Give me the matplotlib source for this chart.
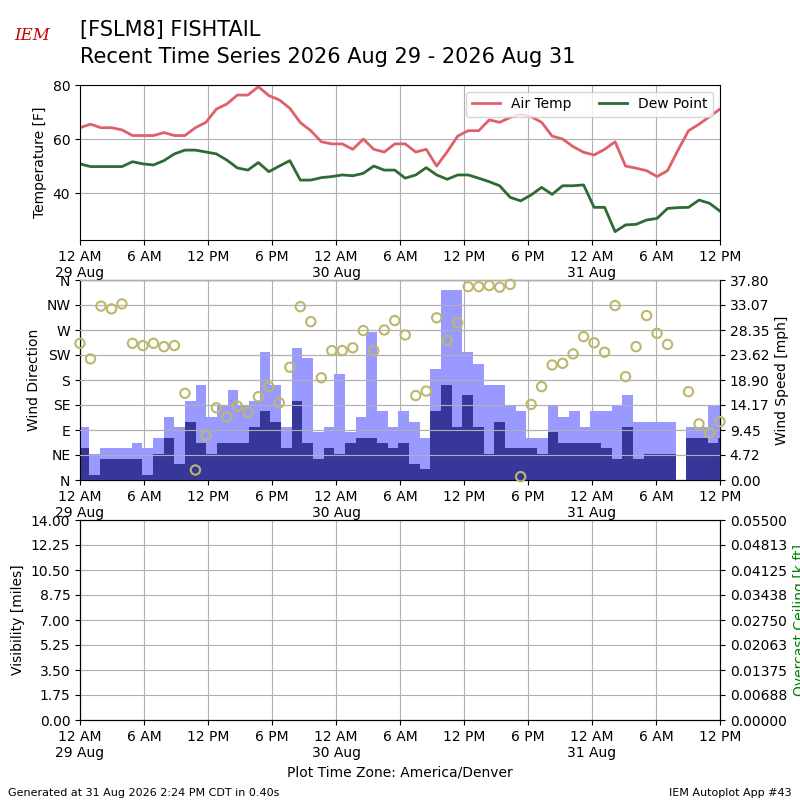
import numpy as np
import matplotlib
matplotlib.use('Agg')
import matplotlib.pyplot as plt

# Temperature data (F), roughly hourly from 12 AM 29 Aug to 12 PM 31 Aug
air_temp = [64.3, 65.6, 64.3, 64.3, 63.5, 61.4, 61.4, 61.4, 62.5, 61.4, 61.4, 64.3,
            66.3, 71.2, 73.1, 76.4, 76.4, 79.5, 76.2, 74.6, 71.5, 66.2, 63.2, 59.1,
            58.3, 58.3, 56.3, 60.1, 56.3, 55.3, 58.3, 58.3, 55.3, 56.3, 50.1, 55.4,
            61.2, 63.2, 63.2, 67.2, 66.3, 68.1, 69.3, 68.4, 66.3, 61.2, 60.1, 57.3,
            55.2, 54.2, 56.3, 59.1, 50.1, 49.3, 48.4, 46.2, 48.4, 56.0, 63.2, 65.6,
            68.4, 71.2]
dew_point = [50.9, 49.9, 49.9, 49.9, 49.9, 51.7, 50.9, 50.5, 52.1, 54.6, 56.0, 56.0,
             55.3, 54.6, 52.3, 49.4, 48.6, 51.4, 48.0, 50.1, 52.1, 44.9, 44.9, 45.8,
             46.2, 46.8, 46.5, 47.4, 50.1, 48.6, 48.6, 45.6, 46.8, 49.5, 46.8, 45.2,
             46.8, 46.8, 45.6, 44.3, 42.8, 38.5, 37.2, 39.4, 42.2, 39.6, 42.8, 42.8,
             43.1, 34.8, 34.8, 25.8, 28.3, 28.5, 30.1, 30.7, 34.4, 34.7, 34.8, 37.5,
             36.3, 33.4]

# Wind (mph) per hour, gust and sustained speed
nan = np.nan
wind_gust = [10.1, 4.9, 6.0, 6.0, 6.0, 7.0, 6.0, 7.9, 12.0, 10.1, 14.9, 18.0,
             12.0, 14.0, 17.0, 14.0, 15.0, 24.1, 18.0, 10.1, 24.9, 23.1, 9.1, 10.1,
             20.0, 9.1, 12.0, 28.0, 13.0, 10.1, 13.0, 11.0, 7.9, 21.0, 35.9, 35.9,
             24.1, 21.9, 18.0, 18.0, 14.0, 13.0, 7.9, 7.9, 14.0, 12.0, 13.0, 10.1,
             13.0, 13.0, 14.0, 16.1, 11.0, 11.0, 11.0, 11.0, nan, 10.1, 10.1, 14.0, 14.0]
wind_speed = [6.0, 1.0, 4.0, 4.0, 4.0, 4.0, 1.0, 4.9, 7.9, 3.1, 11.0, 7.0,
              4.9, 7.0, 7.0, 7.0, 10.1, 13.0, 11.0, 6.0, 14.9, 7.0, 4.0, 6.0,
              4.9, 7.0, 7.9, 7.9, 7.0, 6.0, 7.0, 3.1, 2.1, 13.0, 18.0, 10.1,
              16.1, 10.1, 4.9, 11.0, 6.0, 6.0, 6.0, 4.9, 9.1, 7.0, 7.0, 7.0,
              7.0, 6.0, 4.0, 10.1, 4.0, 4.9, 4.9, 4.9, nan, 7.9, 7.9, 7.0, 7.9]
wind_dir = [246, 218, 313, 308, 317, 246, 242, 246, 240, 242, 156, 18,
            80, 130, 114, 133, 122, 150, 168, 139, 203, 312, 285, 184,
            233, 233, 238, 269, 233, 270, 287, 261, 152, 160, 292, 251,
            283, 348, 348, 350, 347, 352, 6, 136, 168, 207, 210, 227,
            258, 247, 230, 314, 186, 240, 296, 264, 244, nan, 159, 101, 85, 105]

tick_hours = list(range(0, 61, 6))
tick_labels = ['12 AM\n29 Aug', '6 AM', '12 PM', '6 PM', '12 AM\n30 Aug', '6 AM',
               '12 PM', '6 PM', '12 AM\n31 Aug', '6 AM', '12 PM']

t_temp = np.linspace(0, 60, len(air_temp))
t_wind = np.arange(len(wind_gust)) - 0.15
t_dir = np.arange(len(wind_dir)) * 60 / (len(wind_dir) - 1)

fig = plt.figure(figsize=(8, 8), dpi=100)

def setup_x(ax):
    ax.set_xlim(0, 60)
    ax.set_xticks(tick_hours)
    ax.set_xticklabels(tick_labels)
    ax.grid(True, color='#b0b0b0')

# top panel: temperatures
ax1 = fig.add_axes([0.1, 0.7, 0.8, 0.194])
ax1.plot(t_temp, air_temp, color='#e0606a', lw=2, label='Air Temp')
ax1.plot(t_temp, dew_point, color='#2e6b34', lw=2, label='Dew Point')
ax1.set_ylim(22.7, 80.2)
ax1.set_yticks([40, 60, 80])
ax1.set_ylabel('Temperature [F]')
setup_x(ax1)
ax1.legend(loc='upper right', ncol=2)

# middle panel: wind
ax2 = fig.add_axes([0.1, 0.4, 0.8, 0.25])
ax2r = ax2.twinx()
ax2r.bar(t_wind, wind_gust, width=1, align='edge', color='#9999ff', zorder=1)
ax2r.bar(t_wind, wind_speed, width=1, align='edge', color='#373799', zorder=2)
ax2r.set_ylim(0, 37.8)
ax2r.set_yticks(np.linspace(0, 37.8, 9))
ax2r.set_yticklabels([f'{v:.2f}' for v in np.linspace(0, 37.8, 9)])
ax2r.set_ylabel('Wind Speed [mph]')
ax2r.grid(True, color='#b0b0b0', zorder=3)
ax2r.scatter(t_dir, np.array(wind_dir) / 360 * 37.8, s=45, facecolors='none',
             edgecolors='#bdb76b', lw=1.5, zorder=4, clip_on=False)
ax2.set_ylim(0, 360)
ax2.set_yticks(range(0, 361, 45))
ax2.set_yticklabels(['N', 'NE', 'E', 'SE', 'S', 'SW', 'W', 'NW', 'N'])
ax2.set_ylabel('Wind Direction')
setup_x(ax2)
ax2r.set_axisbelow(False)

# bottom panel: visibility / ceiling (empty)
ax3 = fig.add_axes([0.1, 0.1, 0.8, 0.25])
ax3.set_ylim(0, 14)
ax3.set_yticks(np.arange(0, 14.01, 1.75))
ax3.set_yticklabels([f'{v:.2f}' for v in np.arange(0, 14.01, 1.75)])
ax3.set_ylabel('Visibility [miles]')
setup_x(ax3)
ax3.set_xlabel('Plot Time Zone: America/Denver')
ax3r = ax3.twinx()
ax3r.set_ylim(0, 0.055)
ax3r.set_yticks(np.linspace(0, 0.055, 9))
ax3r.set_yticklabels([f'{v:.5f}' for v in np.linspace(0, 0.055, 9)])
ax3r.set_ylabel('Overcast Ceiling [k ft]', color='green')

fig.text(0.1, 0.9625, '[FSLM8] FISHTAIL', fontsize=15, va='center')
fig.text(0.1, 0.929, 'Recent Time Series 2026 Aug 29 - 2026 Aug 31', fontsize=15, va='center')
fig.text(0.04, 0.955, 'IEM', fontsize=12, color='#cc0000', style='italic',
         family='serif', ha='center', va='center')
fig.text(0.01, 0.005, 'Generated at 31 Aug 2026 2:24 PM CDT in 0.40s', fontsize=8)
fig.text(0.99, 0.005, 'IEM Autoplot App #43', fontsize=8, ha='right')

fig.savefig('out.png', dpi=100)
